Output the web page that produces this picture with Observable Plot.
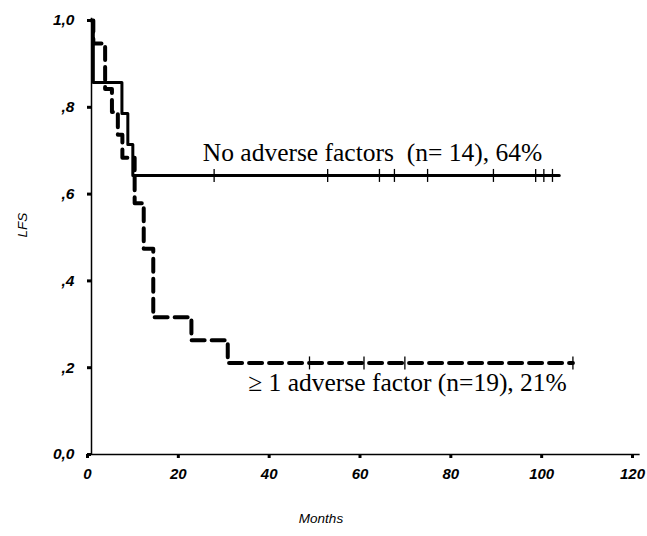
<!DOCTYPE html>
<html><head><meta charset="utf-8">
<script src="https://cdn.jsdelivr.net/npm/d3@7"></script>
<script src="https://cdn.jsdelivr.net/npm/@observablehq/plot@0.6"></script>
<style>body{margin:0;background:#fff}</style>
</head><body><div id="chart"></div>
<script>
// ---- data ----
const xTicks = [0, 20, 40, 60, 80, 100, 120];
const xTickLabels = ["0", "20", "40", "60", "80", "100", "120"];
const yTicks = [0, 0.2, 0.4, 0.6, 0.8, 1.0];
const yTickLabels = ["0,0", ",2", ",4", ",6", ",8", "1,0"];

// No adverse factors (n=14)
const noAdvTimes = [0, 0.4, 6.7, 8.0, 9.1, 103];
const noAdvSurv  = [1.0, 0.857, 0.786, 0.714, 0.643, 0.643];
const noAdvCensor = [27, 52, 63.4, 66.7, 74, 88.5, 97.8, 99.6, 101.5];

// >= 1 adverse factor (n=19)
const advTimes = [0, 0.4, 3.0, 4.5, 5.8, 6.8, 9.5, 11.5, 13.6, 22, 30, 106];
const advSurv  = [1.0, 0.947, 0.842, 0.789, 0.737, 0.684, 0.579, 0.474, 0.316, 0.263, 0.211, 0.211];
const advCensor = [48, 60, 69, 106];

const annoText = ["No adverse factors  (n= 14), 64%", "\u2265 1 adverse factor (n=19), 21%"];
const annoX = [24.5, 34.5];
const annoY = [0.695, 0.166];

// ---- helpers ----
function survAt(times, surv, t) {
  let v = surv[0];
  for (let i = 0; i < times.length; i++) if (times[i] <= t) v = surv[i];
  return v;
}
const noAdv = noAdvTimes.map((t, i) => ({t, s: noAdvSurv[i]}));
const adv = advTimes.map((t, i) => ({t, s: advSurv[i]}));
const noAdvC = noAdvCensor.map(t => ({t, s: survAt(noAdvTimes, noAdvSurv, t)}));
const advC = advCensor.map(t => ({t, s: survAt(advTimes, advSurv, t)}));
const vbar = {draw(ctx, size) { const r = Math.sqrt(size / Math.PI); ctx.moveTo(0, -r); ctx.lineTo(0, r); }};

const chart = Plot.plot({
  width: 647, height: 536,
  marginLeft: 91, marginRight: 11, marginTop: 20, marginBottom: 82,
  style: {fontFamily: "Liberation Sans, Arial, sans-serif", fontSize: "13px", background: "#fff", color: "#000"},
  x: {domain: [0, 120]},
  y: {domain: [0, 1]},
  marks: [
    Plot.axisX({ticks: xTicks, tickFormat: (d, i) => xTickLabels[i], tickSize: 4, strokeWidth: 3, tickPadding: 10,
      textAnchor: "middle", dx: -4, fontStyle: "italic", fontWeight: "bold", fontSize: 15, label: null}),
    Plot.axisY({ticks: yTicks, tickFormat: (d, i) => yTickLabels[i], tickSize: 4, strokeWidth: 3, tickPadding: 13,
      fontStyle: "italic", fontWeight: "bold", fontSize: 15.5, label: null}),
    Plot.ruleX([0], {y1: 0, y2: 1.005, stroke: "#000", strokeWidth: 1.5}),
    Plot.ruleY([0], {x1: 0, x2: 120.8, stroke: "#000", strokeWidth: 1.5}),
    Plot.text(["Months"], {frameAnchor: "bottom", dx: -43, dy: 68, fontStyle: "italic", fontSize: 13.5}),
    Plot.text(["LFS"], {frameAnchor: "left", dx: -69, rotate: -90, fontStyle: "italic", fontSize: 13.5}),
    Plot.line(noAdv, {x: "t", y: "s", curve: "step-after", stroke: "#000", strokeWidth: 3}),
    Plot.line(adv, {x: "t", y: "s", curve: "step-after", stroke: "#000", strokeWidth: 4, strokeDasharray: "13,7"}),
    Plot.dot(noAdvC, {x: "t", y: "s", symbol: vbar, r: 6.5, fill: "none", stroke: "#000", strokeWidth: 1.3}),
    Plot.dot(advC, {x: "t", y: "s", symbol: vbar, r: 6.5, fill: "none", stroke: "#000", strokeWidth: 1.3}),
    Plot.text(annoText, {x: (d, i) => annoX[i], y: (d, i) => annoY[i], text: d => d, textAnchor: "start",
      fontFamily: "Liberation Serif, Times New Roman, serif", fontSize: 25.5})
  ]
});
document.getElementById("chart").appendChild(chart);
</script>
</body></html>
